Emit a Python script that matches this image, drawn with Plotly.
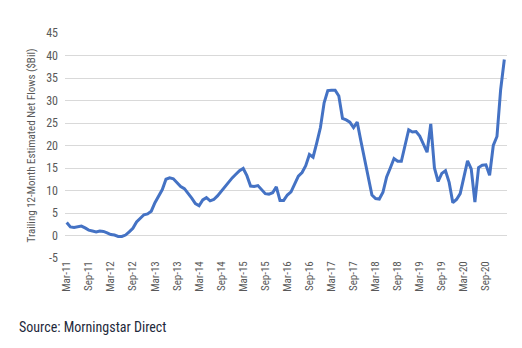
import plotly.graph_objects as go

months = []
mnames = ["Jan", "Feb", "Mar", "Apr", "May", "Jun", "Jul", "Aug", "Sep", "Oct", "Nov", "Dec"]
# Monthly observations Mar-2011 .. Feb-2021
flows = [
    2.9, 1.9, 1.8, 1.9, 2.1, 1.7, 1.2, 1.0, 0.8, 1.0, 0.9, 0.6,
    0.2, 0.1, -0.2, -0.2, 0.1, 0.8, 1.6, 3.0, 3.9, 4.6, 4.8, 5.4,
    7.3, 8.9, 10.2, 12.5, 12.8, 12.6, 11.8, 10.9, 10.4, 9.4, 8.3, 7.1,
    6.6, 7.9, 8.4, 7.7, 8.0, 8.8, 9.8, 10.9, 11.7, 12.8, 13.6, 14.4,
    14.9, 13.3, 11.0, 10.9, 11.1, 10.3, 9.3, 9.2, 9.5, 10.8, 7.8, 7.8,
    9.0, 9.7, 11.5, 13.2, 14.0, 15.5, 18.0, 17.4, 20.6, 24.0, 29.5, 32.2,
    32.3, 32.3, 31.0, 26.0, 25.7, 25.2, 24.0, 25.2, 21.0, 17.0, 12.5, 9.0,
    8.2, 8.1, 9.6, 13.0, 15.0, 17.1, 16.5, 16.5, 20.0, 23.5, 23.0, 23.1,
    22.1, 20.2, 18.5, 24.8, 15.0, 12.0, 13.8, 14.4, 11.8, 7.3, 8.0, 9.3,
    12.7, 16.6, 14.8, 7.4, 15.1, 15.6, 15.7, 13.4, 20.0, 22.0, 32.4, 39.1,
]
start_year, start_month = 2011, 3
for i in range(len(flows)):
    m = start_month - 1 + i
    months.append(f"{mnames[m % 12]}-{(start_year + m // 12) % 100:02d}")

tick_labels = [months[i] for i in range(0, len(months), 6)]
tick_pos = list(range(0, len(months), 6))
x_idx = list(range(len(months)))

y_ticks = [-5, 0, 5, 10, 15, 20, 25, 30, 35, 40, 45]
y_tick_text = [str(v) for v in y_ticks]

font_fam = "Liberation Sans Narrow, Roboto Condensed, Arial Narrow, Liberation Sans, sans-serif"

fig = go.Figure()
fig.add_trace(go.Scatter(
    x=x_idx, y=flows, mode="lines",
    line=dict(color="#4472C4", width=3),
    customdata=months, hovertemplate="%{customdata}: %{y}<extra></extra>",
))

fig.update_layout(
    width=522, height=348,
    margin=dict(l=65, r=15, t=33, b=90),
    paper_bgcolor="white", plot_bgcolor="white",
    showlegend=False,
    font=dict(family=font_fam, color="#595959", size=12),
    xaxis=dict(
        range=[-0.46, 119.73],
        tickmode="array", tickvals=tick_pos, ticktext=tick_labels,
        tickangle=-90, tickfont=dict(size=11, color="#595959"),
        showgrid=False, zeroline=False, showline=False, ticks="",
    ),
    yaxis=dict(
        range=[-5, 45],
        tickmode="array", tickvals=y_ticks, ticktext=y_tick_text,
        showgrid=True, gridcolor="#D9D9D9", gridwidth=1,
        zeroline=False, showline=False, ticks="",
        tickfont=dict(size=12, color="#595959"),
        ticklabelstandoff=6,
        title=dict(text="Trailing 12-Month Estimated Net Flows ($Bil)",
                   font=dict(size=11, color="#595959"), standoff=8),
    ),
    annotations=[dict(
        text="Source: Morningstar Direct", xref="paper", yref="paper",
        x=-0.109, y=-0.305, xanchor="left", yanchor="middle", showarrow=False,
        font=dict(size=14, color="#1F2A3C", family=font_fam),
    )],
)

fig.write_html("out.html")
